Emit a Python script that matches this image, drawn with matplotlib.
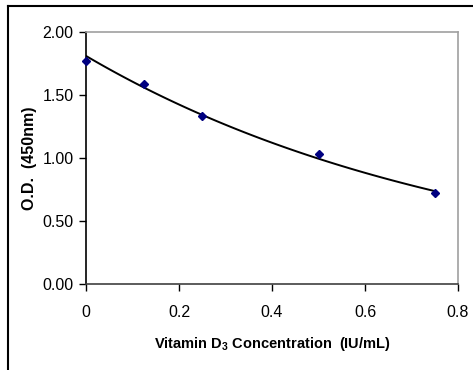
import matplotlib
matplotlib.use('Agg')
import matplotlib.pyplot as plt
from matplotlib.lines import Line2D
import numpy as np

plt.rcParams['font.family'] = ['Liberation Sans', 'DejaVu Sans']
plt.rcParams['mathtext.fontset'] = 'custom'
plt.rcParams['mathtext.bf'] = 'Liberation Sans:bold'
plt.rcParams['mathtext.rm'] = 'Liberation Sans'

# standard curve readings
conc = [0, 0.125, 0.25, 0.5, 0.75]
od = [1.77, 1.59, 1.33, 1.03, 0.72]

xticks = [0, 0.2, 0.4, 0.6, 0.8]
xticklabels = ['0', '0.2', '0.4', '0.6', '0.8']
yticks = [0, 0.5, 1.0, 1.5, 2.0]
yticklabels = ['0.00', '0.50', '1.00', '1.50', '2.00']

fig = plt.figure(figsize=(4.73, 3.70), dpi=100)
ax = fig.add_axes([86/473, 1 - 284/370, (458 - 86)/473, (284 - 32)/370])

# exponential trendline (least squares on log od)
k, b = np.polyfit(conc, np.log(od), 1)
xs = np.linspace(0, 0.75, 100)
ax.plot(xs, np.exp(b + k*xs), color='black', lw=1.4, zorder=2)
ax.plot(conc, od, 'D', color='#000080', ms=4.5, zorder=3, clip_on=False)

ax.set_xlim(0, 0.8)
ax.set_ylim(0, 2.0)
ax.set_xticks(xticks)
ax.set_xticklabels(xticklabels)
ax.set_yticks(yticks)
ax.set_yticklabels(yticklabels)
ax.tick_params(direction='out', length=5, width=1, labelsize=11.5, colors='black')
ax.tick_params(axis='x', pad=10)
ax.tick_params(axis='y', pad=4)

ax.spines['left'].set_color('black')
ax.spines['bottom'].set_color('#404040')
ax.spines['top'].set_color('#a0a0a0')
ax.spines['right'].set_color('#a0a0a0')
for s in ax.spines.values():
    s.set_linewidth(1.2)

ax.set_xlabel('Vitamin D$_\\mathbf{3}$ Concentration  (IU/mL)', fontsize=10.5,
              fontweight='bold', labelpad=11)
ax.set_ylabel('O.D.  (450nm)', fontsize=11.5, fontweight='bold', labelpad=4)

# outer frame
fig.add_artist(Line2D([8/473, 8/473], [0, 1 - 6/370], color='black', lw=1.5,
                      transform=fig.transFigure))
fig.add_artist(Line2D([8/473, 1], [1 - 6/370, 1 - 6/370], color='black', lw=1.5,
                      transform=fig.transFigure))

fig.savefig('out.png', dpi=100)
